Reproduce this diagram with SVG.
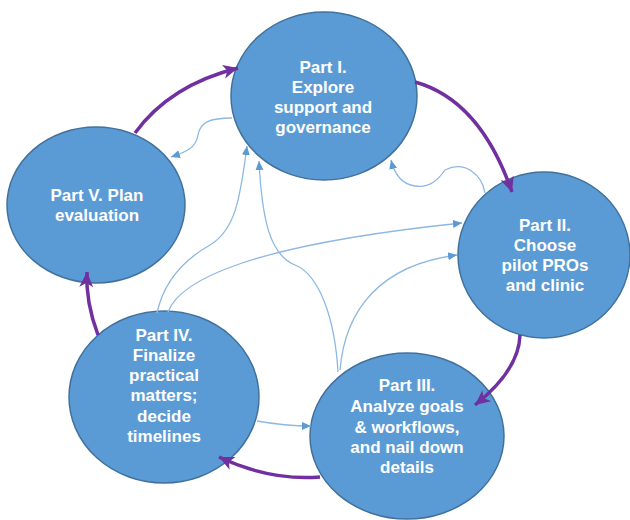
<svg xmlns="http://www.w3.org/2000/svg" width="630" height="520" viewBox="0 0 630 520">
<defs>
<marker id="pa" markerUnits="userSpaceOnUse" markerWidth="16" markerHeight="16" viewBox="0 0 16 16" refX="15" refY="8" orient="auto">
<path d="M0,1 L15,8 L0,15 L4,8 Z" fill="#7030A0"/>
</marker>
<marker id="ba" markerUnits="userSpaceOnUse" markerWidth="10" markerHeight="10" viewBox="0 0 10 10" refX="9" refY="5" orient="auto">
<path d="M0,1 L9,5 L0,9 Z" fill="#5B9BD5"/>
</marker>
<style>
.node ellipse{fill:#5B9BD5;stroke:#41719C;stroke-width:1.5}
.node text{fill:#fff;font-family:"Liberation Sans",Arial,sans-serif;font-weight:bold;font-size:17px;text-anchor:middle}
.thin{fill:none;stroke:#8DB8E2;stroke-width:1.3;marker-end:url(#ba)}
.cyc{fill:none;stroke:#7030A0;stroke-width:3.5;marker-end:url(#pa)}
</style>
</defs>
<rect width="630" height="520" fill="#fff"/>
<g id="n1" class="node"><ellipse cx="324" cy="96" rx="93" ry="84"/>
<text x="323" y="73">Part I.</text><text x="323" y="93">Explore</text><text x="323" y="113">support and</text><text x="323" y="133">governance</text></g>
<g id="n2" class="node"><ellipse cx="544" cy="255" rx="86" ry="83"/>
<text x="545" y="231">Part II.</text><text x="545" y="251">Choose</text><text x="545" y="271">pilot PROs</text><text x="545" y="291">and clinic</text></g>
<g id="n3" class="node"><ellipse cx="407" cy="436" rx="97" ry="83"/>
<text x="407" y="391">Part III.</text><text x="407" y="412">Analyze goals</text><text x="407" y="433">&amp; workflows,</text><text x="407" y="453">and nail down</text><text x="407" y="473">details</text></g>
<g id="n4" class="node"><ellipse cx="164" cy="397" rx="95" ry="86"/>
<text x="164" y="341">Part IV.</text><text x="164" y="361">Finalize</text><text x="164" y="381">practical</text><text x="164" y="401">matters;</text><text x="164" y="422">decide</text><text x="164" y="442">timelines</text></g>
<g id="n5" class="node"><ellipse cx="96" cy="205" rx="89" ry="78"/>
<text x="97" y="201">Part V. Plan</text><text x="97" y="221">evaluation</text></g>
<g id="connectors">
<path class="thin" d="M232,118 C210,118 200,122 198,135 C196,148 186,152 171,157"/>
<path class="thin" d="M485,193 C482,175 465,160 445,170 C438,180 430,188 415,186 C400,184 394,172 391,160"/>
<path class="thin" d="M157,313 C163,285 180,262 210,245 C235,230 240,200 247,146"/>
<path class="thin" d="M168,312 C180,280 250,245 462,223"/>
<path class="thin" d="M338,372 C335,320 320,275 295,265 C270,255 262,220 259,161"/>
<path class="thin" d="M340,370 C345,310 380,265 457,255"/>
<path class="thin" d="M257,421 Q285,426 311,426"/>
<path class="cyc" d="M135,133 Q170,85 238,68"/>
<path class="cyc" d="M415,82 Q480,100 512,192"/>
<path class="cyc" d="M520,335 Q519,370 475,405"/>
<path class="cyc" d="M320,477 Q270,481 219,457"/>
<path class="cyc" d="M98,335 Q85.5,302 87,272"/>
</g>
</svg>
